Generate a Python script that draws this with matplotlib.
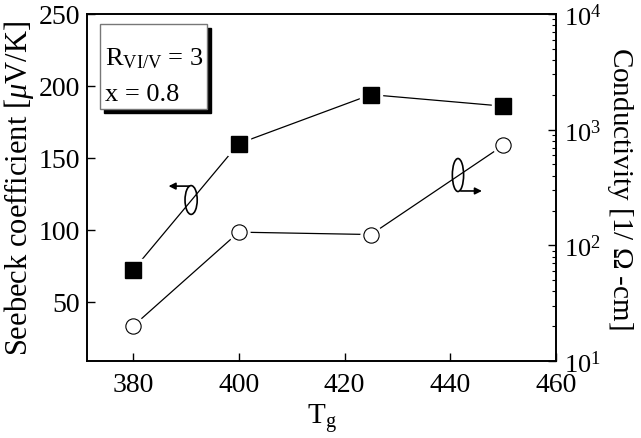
import matplotlib
matplotlib.use("Agg")
import matplotlib.pyplot as plt
from matplotlib.patches import Ellipse, Rectangle
from matplotlib.ticker import LogLocator, NullFormatter

plt.rcParams['font.family'] = ['Liberation Serif', 'DejaVu Serif']
plt.rcParams['mathtext.fontset'] = 'custom'
plt.rcParams['mathtext.rm'] = 'Liberation Serif'
plt.rcParams['mathtext.it'] = 'Liberation Serif:italic'
plt.rcParams['mathtext.bf'] = 'Liberation Serif:bold'

Tg = [380, 400, 425, 450]
seebeck = [72, 160, 194, 186]
conductivity = [20, 130, 124, 730]
x_ticks = [380, 400, 420, 440, 460]
y_ticks = [50, 100, 150, 200, 250]

fig = plt.figure(figsize=(6.41, 4.39), dpi=100)
ax = fig.add_axes([87/641, 1-362/439, 469/641, 347/439])
ax2 = ax.twinx()

fs = 20

# Seebeck (left)
ax.plot(Tg, seebeck, color='black', lw=0.9, zorder=1)
ax.plot(Tg, seebeck, ls='none', marker='s', ms=16, mfc='white', mec='white', zorder=2)
ax.plot(Tg, seebeck, ls='none', marker='s', ms=11.5, mfc='black', mec='black', zorder=3)
ax.set_xlim(371.3, 460)
ax.set_ylim(9, 250)
ax.set_xticks(x_ticks)
ax.set_yticks(y_ticks)
ax.tick_params(axis='both', direction='in', length=6, width=1, labelsize=fs, top=False, right=False, pad=5)
ax.tick_params(axis='x', pad=8)

# Conductivity (right)
ax2.plot(Tg, conductivity, color='black', lw=0.9, zorder=1)
ax2.plot(Tg, conductivity, ls='none', marker='o', ms=15, mfc='white', mec='white', zorder=2)
ax2.plot(Tg, conductivity, ls='none', marker='o', ms=11, mfc='white', mec='black', mew=0.8, zorder=3)
ax2.set_yscale('log')
ax2.set_ylim(10, 1e4)
ax2.yaxis.set_major_locator(LogLocator(base=10, numticks=10))
ax2.yaxis.set_minor_locator(LogLocator(base=10, subs=range(2, 10), numticks=10))
ax2.yaxis.set_minor_formatter(NullFormatter())
ax2.tick_params(axis='y', which='major', direction='in', length=6, width=1, labelsize=19, pad=6)
ax2.tick_params(axis='y', which='minor', direction='in', length=3, width=0.8)

for a in (ax, ax2):
    for s in a.spines.values():
        s.set_linewidth(1.2)

ax.set_ylabel(r'Seebeck coefficient [$\mu$V/K]', fontsize=22, labelpad=2)
ax2.set_ylabel(r'Conductivity [1/ $\Omega$ -cm]', fontsize=21, rotation=-90, labelpad=24)
ax.set_xlabel(r'T$_{\rm g}$', fontsize=21, labelpad=3)

# Annotation box with shadow
bx0, bx1, by0, by1 = 0.028, 0.256, 0.726, 0.971
ax2.add_patch(Rectangle((bx0 + 0.008, by0 - 0.012), bx1 - bx0, by1 - by0, transform=ax.transAxes,
                        facecolor='black', edgecolor='black', zorder=4, clip_on=False))
ax2.add_patch(Rectangle((bx0, by0), bx1 - bx0, by1 - by0, transform=ax.transAxes,
                        facecolor='white', edgecolor='#777777', lw=1.0, zorder=5, clip_on=False))
ax2.text(bx0 + 0.01, 0.875, r'R$_{\rm VI/V}$ = 3', transform=ax.transAxes, fontsize=19,
         va='center', ha='left', zorder=6)
ax2.text(bx0 + 0.01, 0.77, 'x = 0.8', transform=ax.transAxes, fontsize=19,
         va='center', ha='left', zorder=6)

# Ellipse + arrow annotations
ax2.add_patch(Ellipse((0.222, 0.464), 0.026, 0.083, transform=ax.transAxes,
                      facecolor='none', edgecolor='black', lw=1.2, zorder=6))
ax2.annotate('', xy=(0.168, 0.504), xytext=(0.224, 0.504), xycoords='axes fraction',
             textcoords='axes fraction',
             arrowprops=dict(arrowstyle='-|>', color='black', lw=1.2, mutation_scale=10), zorder=6)
ax2.add_patch(Ellipse((0.791, 0.536), 0.024, 0.095, transform=ax.transAxes,
                      facecolor='none', edgecolor='black', lw=1.2, zorder=6))
ax2.annotate('', xy=(0.848, 0.490), xytext=(0.791, 0.490), xycoords='axes fraction',
             textcoords='axes fraction',
             arrowprops=dict(arrowstyle='-|>', color='black', lw=1.2, mutation_scale=10), zorder=6)

fig.savefig('out.png', dpi=100)
